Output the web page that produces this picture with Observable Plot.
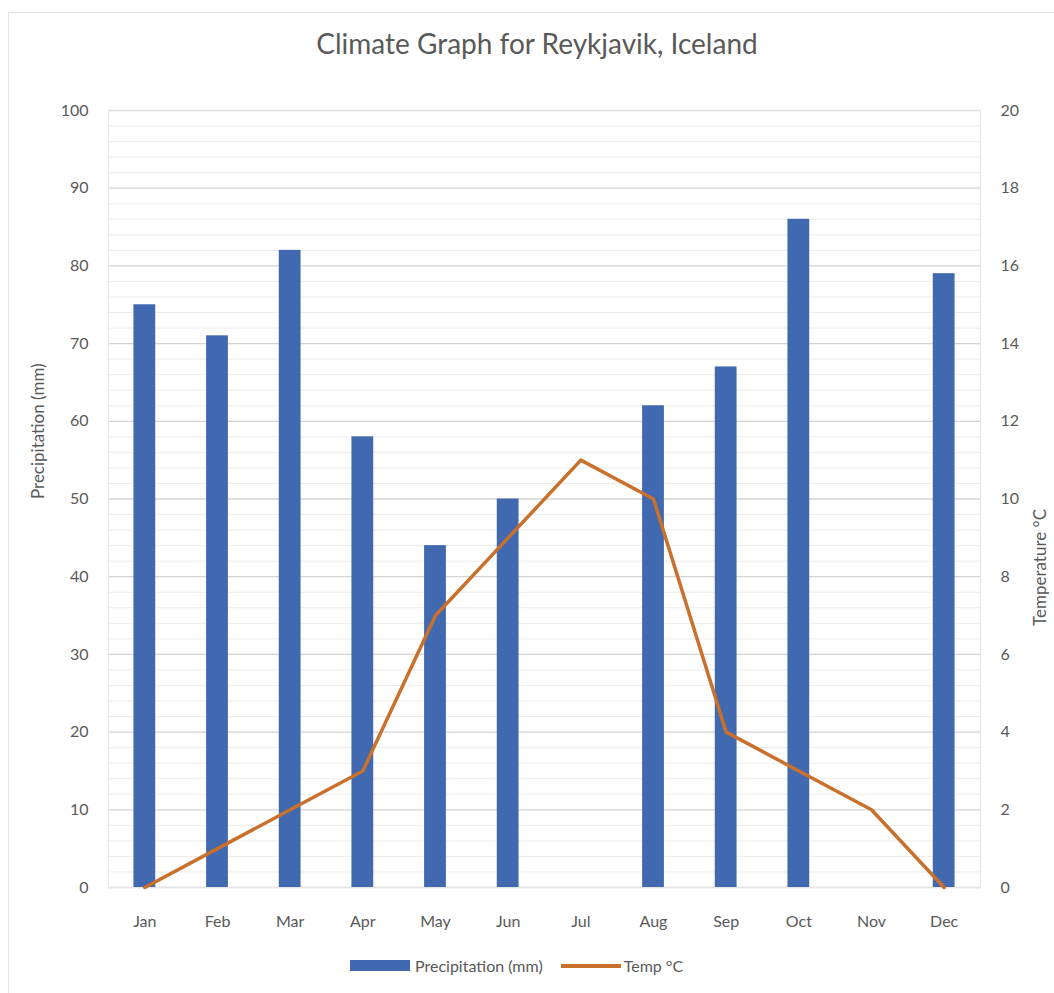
<!DOCTYPE html>
<html>
<head>
<meta charset="utf-8">
<script src="https://cdn.jsdelivr.net/npm/d3@7"></script>
<script src="https://cdn.jsdelivr.net/npm/@observablehq/plot@0.6"></script>
<style>
  html, body { margin: 0; padding: 0; background: #fff; }
  #wrap { position: relative; width: 1054px; height: 993px; overflow: hidden; font-family: Lato, "Open Sans", sans-serif; color: #595959; }
  #border { position: absolute; left: 8px; top: 12px; width: 1060px; height: 1000px; border: 1px solid #e2e2e2; box-sizing: border-box; }
  #title { position: absolute; top: 26px; left: 0; width: 1074px; text-align: center; font-size: 28px; color: #595959; }
  #chart { position: absolute; top: 90px; left: 0; }
  #legend { position: absolute; top: 956px; left: 350px; display: flex; align-items: center; font-size: 16px; color: #595959; }
  .sw-bar { width: 60px; height: 11px; background: #4169B0; margin-right: 5px; }
  .sw-line { width: 60px; height: 4px; background: #C9702C; margin-left: 18px; margin-right: 3px; }
</style>
</head>
<body>
<div id="wrap">
  <div id="border"></div>
  <div id="title">Climate Graph for Reykjavik, Iceland</div>
  <div id="chart"></div>
  <div id="legend">
    <div class="sw-bar"></div><span>Precipitation (mm)</span>
    <div class="sw-line"></div><span>Temp °C</span>
  </div>
</div>
<script>
const months = ["Jan","Feb","Mar","Apr","May","Jun","Jul","Aug","Sep","Oct","Nov","Dec"];
const precipitation = [75, 71, 82, 58, 44, 50, null, 62, 67, 86, null, 79];
const temperature = [0, 1, 2, 3, 7, 9, 11, 10, 4, 3, 2, 0];
const precipTicks = [0, 10, 20, 30, 40, 50, 60, 70, 80, 90, 100];
const tempTicks = [0, 2, 4, 6, 8, 10, 12, 14, 16, 18, 20];
const minorTicks = d3.range(0, 101, 2).filter(v => v % 10 !== 0);

const data = months.map((m, i) => ({month: m, precip: precipitation[i], temp: temperature[i]}));
const tempScale = 100 / 20; // temperature axis 0–20 maps onto precipitation axis 0–100

const chart = Plot.plot({
  width: 1054,
  height: 852,
  marginLeft: 108,
  marginRight: 74,
  marginTop: 20,
  marginBottom: 55,
  style: {fontFamily: 'Lato, "Open Sans", sans-serif', fontSize: "16px", color: "#595959", background: "transparent"},
  x: {domain: months, paddingInner: 0.7, paddingOuter: 0.35, round: false, label: null},
  y: {domain: [0, 100], label: null},
  marks: [
    Plot.ruleY(minorTicks, {stroke: "#ececec", strokeWidth: 1}),
    Plot.ruleY(precipTicks, {stroke: "#d4d4d4", strokeWidth: 1.3}),
    Plot.frame({stroke: "#e4e4e4", strokeWidth: 1}),
    Plot.axisX({tickSize: 0, tickPadding: 28, fontSize: 16, label: null}),
    Plot.axisY(precipTicks, {anchor: "left", tickSize: 0, tickPadding: 20, fontSize: 16, label: null}),
    Plot.axisY(tempTicks.map(t => t * tempScale), {anchor: "right", tickSize: 0, tickPadding: 20, fontSize: 16, label: null, tickFormat: d => d / tempScale}),
    Plot.barY(data.filter(d => d.precip != null), {x: "month", y: "precip", fill: "#4169B0"}),
    Plot.line(data, {x: "month", y: d => d.temp * tempScale, stroke: "#C9702C", strokeWidth: 3.5, strokeLinejoin: "round"}),
    Plot.text(["Precipitation (mm)"], {frameAnchor: "left", dx: -70, rotate: -90, fontSize: 17, fill: "#595959"}),
    Plot.text(["Temperature °C"], {frameAnchor: "right", dx: 60, dy: 10, rotate: -90, fontSize: 17, fill: "#595959"})
  ]
});
document.getElementById("chart").appendChild(chart);
</script>
</body>
</html>
